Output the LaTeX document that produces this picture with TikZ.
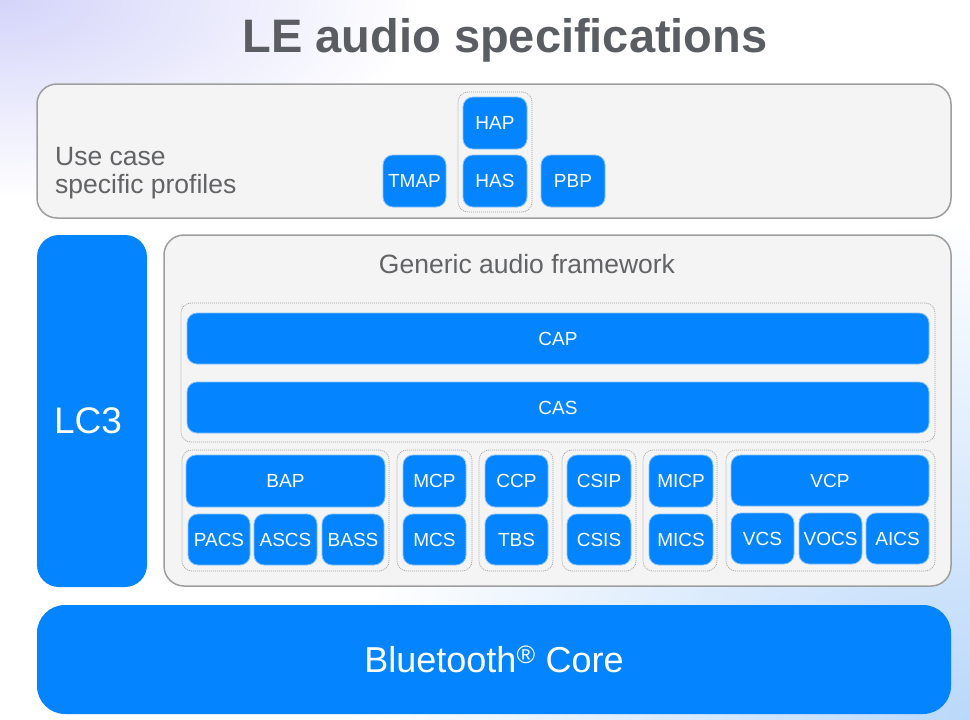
\documentclass[tikz,border=0pt]{standalone}
\usepackage{fontspec}
\setmainfont{Liberation Sans}
\definecolor{bblue}{HTML}{0584FF}
\definecolor{framefill}{HTML}{F4F4F4}
\definecolor{framedraw}{HTML}{9E9E9E}
\definecolor{txtgray}{HTML}{626366}
\definecolor{titlegray}{HTML}{5A5D62}
\definecolor{lav}{RGB}{212,212,250}
\definecolor{skyb}{RGB}{186,216,250}
\newcommand\rbox[7][]{\node[#1, minimum width={(#5-#3)*1pt}, minimum height={(#6-#4)*1pt}] (#2) at ({(#3+#5)/2},{(#4+#6)/2}) {#7};}
\tikzset{
 bbox/.style={fill=bblue, draw=bblue!50!white, line width=0.8pt, rounded corners=10pt, text=white, font=\fontsize{19}{19}\selectfont, inner sep=0pt, outer sep=0pt},
 grp/.style={draw=gray!75, dash pattern=on 1pt off 1pt, line width=0.7pt, rounded corners=10pt, inner sep=0pt, outer sep=0pt},
 panel/.style={fill=framefill, draw=framedraw, line width=1.5pt, rounded corners=20pt, inner sep=0pt, outer sep=0pt},
 bigblue/.style={fill=bblue, rounded corners=22pt, text=white, inner sep=0pt, outer sep=0pt},
 graytext/.style={text=txtgray, font=\fontsize{26.5}{28}\selectfont, inner sep=0pt},
}
\begin{document}
\begin{tikzpicture}[x=1pt,y=-1pt]
\useasboundingbox (0,0) rectangle (970,720);
\fill[white] (0,0) rectangle (970,720);
\begin{scope}
\clip (0,0) rectangle (970,720);
\shade[inner color=lav, outer color=white] (0,0) ellipse [x radius=420, y radius=200];
\shade[inner color=skyb, outer color=white] (970,720) ellipse [x radius=620, y radius=500];
\end{scope}

% title
\node[anchor=base, text=titlegray, font=\fontsize{47}{47}\selectfont\bfseries, inner sep=0pt] (title) at (505,52) {LE audio specifications};

% use case profiles
\rbox[panel]{ucp}{37}{84}{951}{218}{}
\node[graytext, anchor=base west, align=left] (ucplbl) at (55,193) {Use case\\specific profiles};
\rbox[grp]{hgrp}{458}{92}{532}{212}{}
\rbox[bbox]{hap}{463}{97}{527}{149}{HAP}
\rbox[bbox]{has}{463}{155}{527}{207}{HAS}
\rbox[bbox]{tmap}{383}{155}{446}{207}{TMAP}
\rbox[bbox]{pbp}{541}{155}{605}{207}{PBP}

% LC3
\rbox[bigblue]{lc3}{37}{235}{147}{587}{}
\node[text=white, font=\fontsize{37}{37}\selectfont, inner sep=0pt] (lc3lbl) at (88,421) {LC3};

% generic audio framework
\rbox[panel]{gaf}{164}{235}{951}{586}{}
\node[graytext, anchor=base] (gaflbl) at (527,273) {Generic audio framework};
\rbox[grp]{capgrp}{181}{303}{935}{442}{}
\rbox[bbox]{cap}{187}{313}{929}{364}{CAP}
\rbox[bbox]{cas}{187}{382}{929}{433}{CAS}

\rbox[grp]{g1}{182}{450}{389}{571}{}
\rbox[bbox]{bap}{186}{455}{385}{507}{BAP}
\rbox[bbox]{pacs}{188}{514}{250}{565}{PACS}
\rbox[bbox]{ascs}{254}{514}{317}{565}{ASCS}
\rbox[bbox]{bass}{322}{514}{384}{565}{BASS}

\rbox[grp]{g2}{397}{450}{472}{571}{}
\rbox[bbox]{mcp}{403}{455}{466}{507}{MCP}
\rbox[bbox]{mcs}{403}{514}{466}{565}{MCS}

\rbox[grp]{g3}{479}{450}{553}{571}{}
\rbox[bbox]{ccp}{485}{455}{548}{507}{CCP}
\rbox[bbox]{tbs}{485}{514}{548}{565}{TBS}

\rbox[grp]{g4}{562}{450}{636}{571}{}
\rbox[bbox]{csip}{567}{455}{631}{507}{CSIP}
\rbox[bbox]{csis}{567}{514}{631}{565}{CSIS}

\rbox[grp]{g5}{643}{450}{717}{571}{}
\rbox[bbox]{micp}{649}{455}{713}{507}{MICP}
\rbox[bbox]{mics}{649}{514}{713}{565}{MICS}

\rbox[grp]{g6}{726}{450}{935}{571}{}
\rbox[bbox]{vcp}{731}{455}{929}{506}{VCP}
\rbox[bbox]{vcs}{731}{513}{794}{564}{VCS}
\rbox[bbox]{vocs}{799}{513}{862}{564}{VOCS}
\rbox[bbox]{aics}{866}{513}{929}{564}{AICS}

% core
\rbox[bigblue, rounded corners=28pt, font=\fontsize{36}{36}\selectfont]{core}{37}{605}{951}{714}{Bluetooth\textsuperscript{®} Core}
\end{tikzpicture}
\end{document}
